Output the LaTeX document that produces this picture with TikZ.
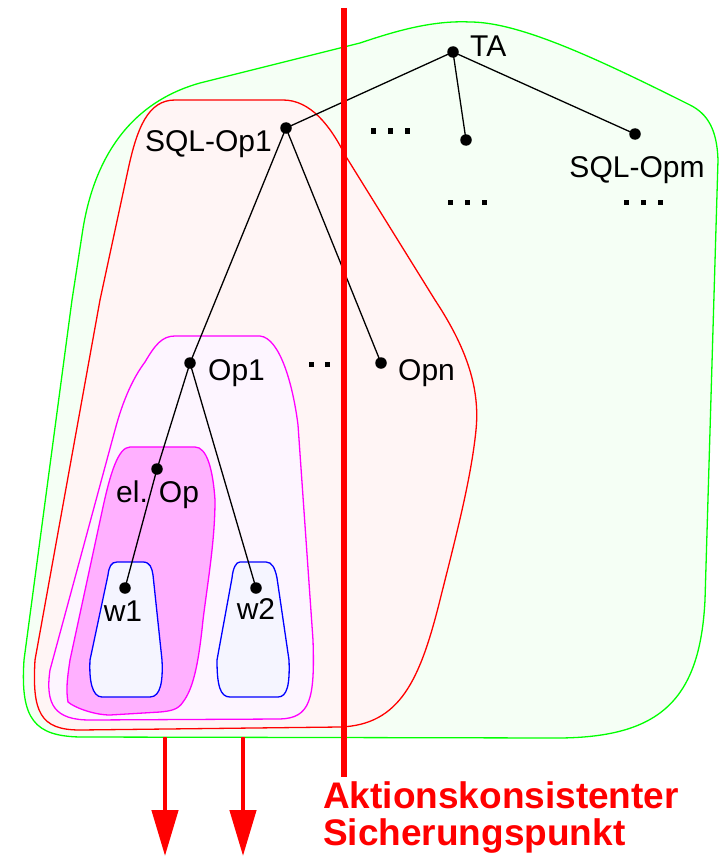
\documentclass[tikz,border=0pt]{standalone}
\usepackage{fontspec}
\setmainfont{Liberation Sans}
\usetikzlibrary{arrows.meta}
\definecolor{gfill}{HTML}{F5FFF5}
\definecolor{rfill}{HTML}{FFF5F5}
\definecolor{mfill}{HTML}{FDF5FF}
\definecolor{efill}{HTML}{FFB0FF}
\definecolor{bfill}{HTML}{F5F5FF}
\definecolor{gline}{HTML}{00FF00}
\definecolor{rline}{HTML}{FF0000}
\definecolor{mline}{HTML}{FF00FF}
\definecolor{bline}{HTML}{0000FF}
\tikzset{
  blob/.style={line width=1.3pt, line join=round},
  treedot/.style={circle, fill=black, inner sep=0pt, minimum size=11.5pt},
  lbl/.style={font=\fontsize{30}{36}\selectfont, inner sep=0pt},
  redlbl/.style={font=\fontsize{37}{40}\selectfont\bfseries, text=rline, inner sep=0pt},
  edge/.style={line width=1.3pt, black},
  ell/.style={fill=black},
  redarrow/.style={rline, line width=4.5pt, -{Triangle[width=26pt,length=46pt]}},
  redline/.style={rline, line width=5.5pt}
}
\begin{document}
\begin{tikzpicture}[x=1pt,y=-1pt]
\useasboundingbox (0,0) rectangle (719,856);
% green region (TA)
\draw[blob, draw=gline, fill=gfill]
  (80,737) -- (560,738) .. controls (660,737) and (700,700) .. (705,600)
  -- (718,160) .. controls (717,130) and (708,114) .. (690,105)
  .. controls (600,60) and (520,22) .. (470,22)
  .. controls (430,20) and (390,33) .. (360,43)
  -- (200,83) .. controls (125,104) and (92,165) .. (82,235)
  -- (72,300)
  -- (24,660) .. controls (20,720) and (35,736) .. (80,737) -- cycle;
% red region (SQL-Op1)
\draw[blob, draw=rline, fill=rfill]
  (175,100) -- (283,100) .. controls (310,100) and (330,125) .. (345,155)
  -- (435,300) .. controls (468,350) and (480,390) .. (476,430)
  .. controls (471,480) and (455,540) .. (440,600)
  .. controls (420,680) and (400,725) .. (340,727)
  -- (80,730) .. controls (40,730) and (32,712) .. (35,660)
  -- (100,300) -- (128,170) .. controls (137,128) and (148,100) .. (175,100) -- cycle;
% magenta outer region (Op1)
\draw[blob, draw=mline, fill=mfill]
  (175,336) -- (260,336) .. controls (280,338) and (293,385) .. (298,425)
  -- (313,640) .. controls (315,700) and (310,718) .. (280,719)
  -- (90,720) .. controls (55,720) and (45,705) .. (50,670)
  -- (115,430) .. controls (123,400) and (133,378) .. (145,362)
  .. controls (155,345) and (162,336) .. (175,336) -- cycle;
% magenta inner region (el. Op)
\draw[blob, draw=mline, fill=efill]
  (130,447) -- (195,447) .. controls (207,447) and (213,470) .. (215,500)
  .. controls (215,540) and (208,580) .. (203,620)
  .. controls (198,670) and (192,690) .. (183,702)
  .. controls (178,710) and (170,711) .. (160,712)
  -- (110,715) .. controls (95,715) and (75,708) .. (68,702)
  .. controls (66,690) and (67,680) .. (70,660)
  -- (103,507) .. controls (110,475) and (118,447) .. (130,447) -- cycle;
% blue w1
\draw[blob, draw=bline, fill=bfill]
  (117,562) -- (143,562) .. controls (150,562) and (152,568) .. (153,575)
  -- (162,660) .. controls (163,680) and (161,697) .. (150,697)
  -- (102,697) .. controls (92,697) and (89,680) .. (90,660)
  -- (108,575) .. controls (109,567) and (111,562) .. (117,562) -- cycle;
% blue w2
\draw[blob, draw=bline, fill=bfill]
  (240,562) -- (266,562) .. controls (272,562) and (275,568) .. (277,578)
  -- (289,660) .. controls (290,685) and (287,697) .. (278,697)
  -- (230,697) .. controls (220,697) and (217,685) .. (217,660)
  -- (232,578) .. controls (233,568) and (236,562) .. (240,562) -- cycle;
% tree nodes
\node[treedot] (ta) at (453,52) {};
\node[treedot] (sql1) at (286,128) {};
\node[treedot] (mid) at (466,140) {};
\node[treedot] (sqlm) at (635,134) {};
\node[treedot] (op1) at (190,363) {};
\node[treedot] (opn) at (381,363) {};
\node[treedot] (elop) at (157,469) {};
\node[treedot] (w1) at (125,588) {};
\node[treedot] (w2) at (256,588) {};
% edges
\draw[edge] (ta.center) -- (sql1.center);
\draw[edge] (ta.center) -- (mid.center);
\draw[edge] (ta.center) -- (sqlm.center);
\draw[edge] (sql1.center) -- (op1.center);
\draw[edge] (sql1.center) -- (opn.center);
\draw[edge] (op1.center) -- (elop.center);
\draw[edge] (elop.center) -- (w1.center);
\draw[edge] (op1.center) -- (w2.center);
% labels
\node[lbl, anchor=base west] (talbl) at (470,57) {TA};
\node[lbl, anchor=base east] (sql1lbl) at (272,151) {SQL-Op1};
\node[lbl, anchor=base] (sqlmlbl) at (637,177) {SQL-Opm};
\node[lbl, anchor=base west] (op1lbl) at (208,380) {Op1};
\node[lbl, anchor=base west] (opnlbl) at (398,380) {Opn};
\node[lbl, anchor=base west] (eloplbl) at (116,502) {el. Op};
\node[lbl, anchor=base] (w1lbl) at (123,621) {w1};
\node[lbl, anchor=base] (w2lbl) at (256,619) {w2};
% ellipsis dots
\foreach \x/\y in {373/131, 390/131, 407/131, 450/202, 467/202, 484/202,
                   626/202, 643/202, 660/202, 311/364, 327/364}
  \fill[ell] (\x-2.5,\y-2.5) rectangle (\x+2.5,\y+2.5);
% red vertical line
\coordinate (rtop) at (344,8);
\coordinate (rbot) at (344,777);
\draw[redline] (rtop) -- (rbot);
% red arrows
\coordinate (a1s) at (165,737);
\coordinate (a1e) at (165,856);
\coordinate (a2s) at (243,737);
\coordinate (a2e) at (243,856);
\draw[redarrow] (a1s) -- (a1e);
\draw[redarrow] (a2s) -- (a2e);
% red text
\node[redlbl, anchor=base west] (t1) at (323,808) {Aktionskonsistenter};
\node[redlbl, anchor=base west] (t2) at (323,845) {Sicherungspunkt};
\end{tikzpicture}
\end{document}
